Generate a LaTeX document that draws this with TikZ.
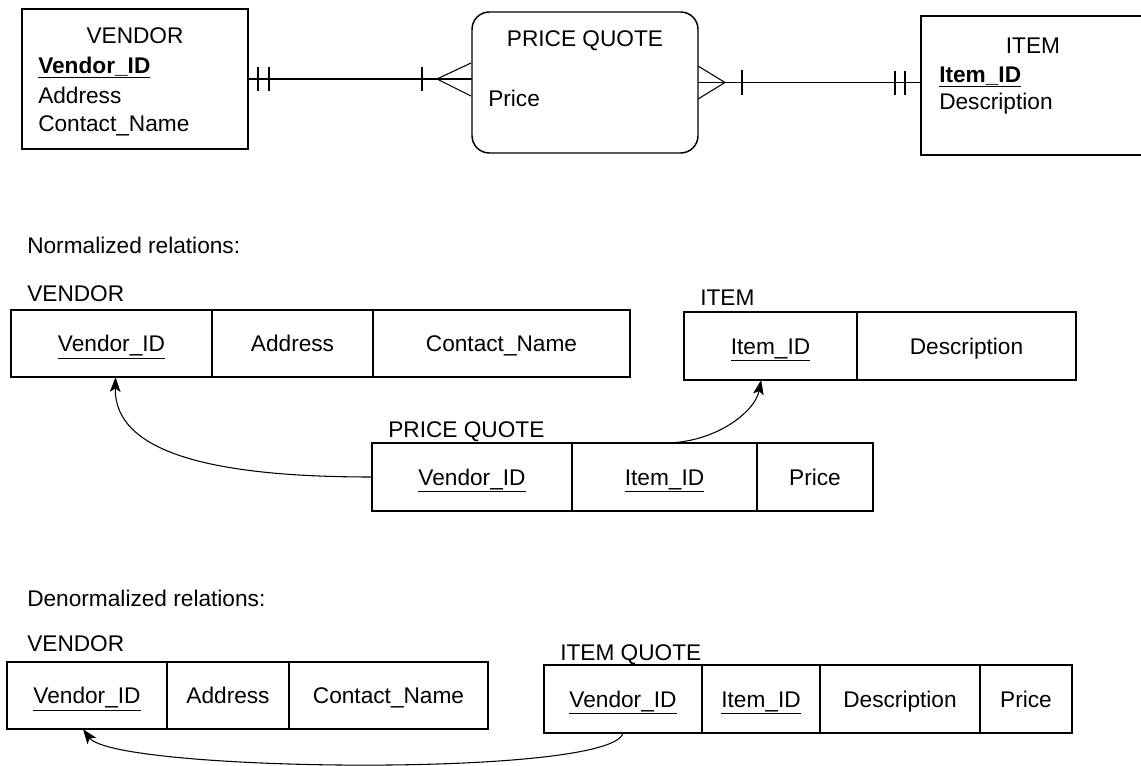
\documentclass[tikz,border=0pt]{standalone}
\usepackage{fontspec}
\setmainfont{Liberation Sans}
\usetikzlibrary{arrows.meta,positioning}
\tikzstyle{entbox}=[draw,line width=1.1pt,inner sep=0pt,outer sep=0pt]
\tikzstyle{relcell}=[draw,line width=1.1pt,inner sep=0pt,outer sep=0pt,minimum height=50.5pt,
                     font=\fontsize{17}{20}\selectfont,text height=12.2pt,text depth=0pt]
\tikzstyle{lbl}=[inner sep=0pt,font=\fontsize{17}{20}\selectfont,text height=12.2pt,text depth=0pt]
\tikzstyle{erline}=[line width=0.8pt]
\tikzstyle{fkarrow}=[-{Stealth[length=11pt,width=8pt,inset=2.5pt]},line width=0.8pt]
\newcommand{\pk}[1]{\underline{#1}}

\begin{document}
\begin{tikzpicture}[x=0.75pt,y=-0.75pt]
      \clip (0,0) rectangle (1141,766);

      % E-R diagram
      \node[entbox,minimum width=169.5pt,minimum height=105pt] (ven) at (135,79) {};
      \node[entbox,rounded corners=13pt,minimum width=169.5pt,minimum height=105.75pt] (pq) at (585,82.5) {};
      \node[entbox,minimum width=171.75pt,minimum height=104.25pt] (it) at (1035.5,85.5) {};

      \node[lbl] (venT) at (135,35) {VENDOR};
      \node[lbl,anchor=west] (venA) at (38,65) {\pk{\textbf{Vendor\_ID}}};
      \node[lbl,anchor=west] (venB) at (38,95) {Address};
      \node[lbl,anchor=west] (venC) at (38,123) {Contact\_Name};
      \node[lbl] (pqT) at (585,38) {PRICE QUOTE};
      \node[lbl,anchor=west] (pqA) at (488,98) {Price};
      \node[lbl] (itT) at (1033,45) {ITEM};
      \node[lbl,anchor=west] (itA) at (939,74) {\pk{\textbf{Item\_ID}}};
      \node[lbl,anchor=west] (itB) at (939,101) {Description};

      \draw[erline] (ven.east) -- (ven.east -| pq.west);
      \draw[erline] (pq.east) -- (pq.east -| it.west);
      % cardinality marks
      \draw[erline] (258,67)--(258,91) (269,67)--(269,91);
      \draw[erline] (422,67)--(422,91);
      \draw[erline] (471,63)--(437,79)--(471,96);
      \draw[erline] (698,66)--(725,82.5)--(698,99);
      \draw[erline] (742,70)--(742,95);
      \draw[erline] (895,71)--(895,95) (905,71)--(905,95);

      % normalized relations
      \node[lbl,anchor=west] (normT) at (27,245) {Normalized relations:};
      \node[lbl,anchor=west] (nvT) at (27,293) {VENDOR};
      \node[relcell,minimum width=150.75pt] (nvid) at (111.5,343.5) {\pk{Vendor\_ID}};
      \node[relcell,minimum width=120.75pt,right=0pt of nvid] (nvaddr) {Address};
      \node[relcell,minimum width=192.75pt,right=0pt of nvaddr] (nvname) {Contact\_Name};

      \node[lbl,anchor=west] (niT) at (700,297) {ITEM};
      \node[relcell,minimum width=129.75pt,minimum height=51pt] (niid) at (770.5,346) {\pk{Item\_ID}};
      \node[relcell,minimum width=164.25pt,minimum height=51pt,right=0pt of niid] (nidesc) {Description};

      \node[lbl,anchor=west] (npT) at (388,429) {PRICE QUOTE};
      \node[relcell,minimum width=150pt,minimum height=51pt] (npvid) at (472,477) {\pk{Vendor\_ID}};
      \node[relcell,minimum width=138.75pt,minimum height=51pt,right=0pt of npvid] (npiid) {\pk{Item\_ID}};
      \node[relcell,minimum width=87pt,minimum height=51pt,right=0pt of npiid] (npprice) {Price};

      \draw[fkarrow] (npvid.west) .. controls (220,477) and (114,455) .. ([xshift=3pt]nvid.south);
      \draw[fkarrow] (npiid.north) .. controls (715,443) and (755,412) .. ([xshift=-7pt]niid.south);

      % denormalized relations
      \node[lbl,anchor=west] (denT) at (27,598) {Denormalized relations:};
      \node[lbl,anchor=west] (dvT) at (27,643) {VENDOR};
      \node[relcell,minimum width=120pt] (dvid) at (87,695.5) {\pk{Vendor\_ID}};
      \node[relcell,minimum width=91.5pt,right=0pt of dvid] (dvaddr) {Address};
      \node[relcell,minimum width=149.25pt,right=0pt of dvaddr] (dvname) {Contact\_Name};

      \node[lbl,anchor=west] (dqT) at (560,652) {ITEM QUOTE};
      \node[relcell,minimum width=118.5pt,minimum height=51pt] (dqvid) at (623,699) {\pk{Vendor\_ID}};
      \node[relcell,minimum width=88.5pt,minimum height=51pt,right=0pt of dqvid] (dqiid) {\pk{Item\_ID}};
      \node[relcell,minimum width=120pt,minimum height=51pt,right=0pt of dqiid] (dqdesc) {Description};
      \node[relcell,minimum width=69pt,minimum height=51pt,right=0pt of dqdesc] (dqprice) {Price};

      \draw[fkarrow] (dqvid.south) .. controls (612,778) and (115,772) .. ([xshift=-3pt]dvid.south);
\end{tikzpicture}
\end{document}
